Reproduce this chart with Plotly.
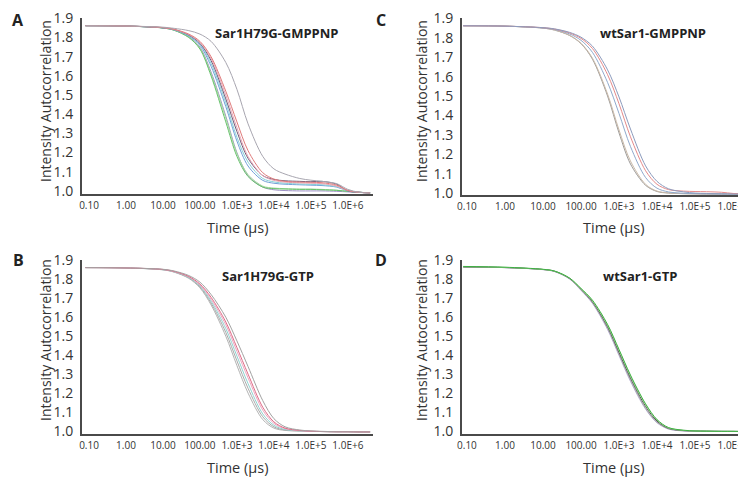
import plotly.graph_objects as go

# lag time grid (µs) shared by all correlograms
time_us = [0.08, 1, 10, 20, 50, 100, 200, 500, 1000, 2000, 5000, 1e4, 2e4, 5e4, 1e5, 2e5, 5e5, 1e6, 2e6, 4e6]

# A: Sar1H79G-GMPPNP
a_green = [1.862, 1.860, 1.850, 1.838, 1.800, 1.740, 1.600, 1.360, 1.180, 1.075, 1.020, 1.012, 1.010, 1.008, 1.008, 1.006, 1.003, 0.998, 0.993, 0.990]
a_lime = [1.862, 1.860, 1.850, 1.839, 1.802, 1.745, 1.610, 1.380, 1.195, 1.085, 1.025, 1.015, 1.012, 1.010, 1.010, 1.008, 1.004, 0.998, 0.993, 0.990]
a_purple = [1.862, 1.860, 1.850, 1.839, 1.804, 1.750, 1.620, 1.390, 1.200, 1.080, 1.020, 1.006, 1.002, 1.000, 1.000, 1.000, 0.998, 0.995, 0.992, 0.990]
a_blue = [1.862, 1.860, 1.851, 1.840, 1.808, 1.760, 1.650, 1.440, 1.260, 1.130, 1.055, 1.040, 1.035, 1.032, 1.030, 1.028, 1.020, 1.000, 0.993, 0.990]
a_cyan = [1.862, 1.860, 1.851, 1.841, 1.810, 1.765, 1.665, 1.460, 1.280, 1.150, 1.065, 1.047, 1.040, 1.036, 1.034, 1.032, 1.022, 1.000, 0.993, 0.990]
a_dark = [1.862, 1.860, 1.851, 1.842, 1.813, 1.770, 1.680, 1.480, 1.310, 1.170, 1.080, 1.060, 1.053, 1.050, 1.048, 1.050, 1.035, 1.000, 0.993, 0.990]
a_pink = [1.862, 1.860, 1.852, 1.842, 1.815, 1.775, 1.690, 1.500, 1.330, 1.180, 1.080, 1.055, 1.046, 1.042, 1.040, 1.038, 1.025, 1.002, 0.993, 0.990]
a_red = [1.862, 1.860, 1.852, 1.843, 1.818, 1.780, 1.700, 1.520, 1.360, 1.210, 1.095, 1.062, 1.050, 1.046, 1.045, 1.043, 1.030, 1.003, 0.993, 0.990]
a_grey = [1.862, 1.860, 1.854, 1.848, 1.836, 1.818, 1.780, 1.670, 1.530, 1.350, 1.180, 1.115, 1.088, 1.065, 1.056, 1.050, 1.038, 1.008, 0.993, 0.990]

# B: Sar1H79G-GTP
b_grey1 = [1.862, 1.860, 1.850, 1.838, 1.805, 1.755, 1.665, 1.500, 1.345, 1.200, 1.060, 1.015, 1.003, 1.000, 0.998, 0.997, 0.996, 0.996, 0.995, 0.995]
b_grey2 = [1.862, 1.860, 1.851, 1.839, 1.808, 1.760, 1.675, 1.520, 1.370, 1.225, 1.075, 1.022, 1.005, 1.000, 0.998, 0.997, 0.996, 0.996, 0.995, 0.995]
b_cyan = [1.862, 1.860, 1.851, 1.840, 1.810, 1.765, 1.685, 1.540, 1.395, 1.250, 1.090, 1.030, 1.008, 1.001, 0.998, 0.997, 0.996, 0.996, 0.995, 0.995]
b_pink = [1.862, 1.860, 1.852, 1.841, 1.813, 1.770, 1.695, 1.560, 1.420, 1.280, 1.110, 1.040, 1.012, 1.002, 0.998, 0.997, 0.996, 0.996, 0.995, 0.995]
b_red = [1.862, 1.860, 1.852, 1.842, 1.815, 1.775, 1.705, 1.575, 1.440, 1.300, 1.125, 1.048, 1.015, 1.003, 0.999, 0.997, 0.996, 0.996, 0.995, 0.995]
b_grey3 = [1.862, 1.860, 1.853, 1.844, 1.820, 1.785, 1.720, 1.600, 1.475, 1.340, 1.160, 1.065, 1.022, 1.005, 1.000, 0.998, 0.996, 0.996, 0.995, 0.995]

# C: wtSar1-GMPPNP
c_grey = [1.862, 1.860, 1.850, 1.840, 1.812, 1.770, 1.690, 1.500, 1.310, 1.150, 1.040, 1.008, 1.000, 0.997, 0.996, 0.995, 0.995, 0.995, 0.994, 0.994]
c_tan = [1.862, 1.860, 1.850, 1.840, 1.813, 1.772, 1.695, 1.510, 1.325, 1.165, 1.045, 1.010, 1.001, 0.997, 0.996, 0.995, 0.995, 0.995, 0.994, 0.994]
c_blue = [1.862, 1.860, 1.851, 1.843, 1.820, 1.787, 1.725, 1.570, 1.410, 1.240, 1.080, 1.025, 1.006, 0.999, 0.997, 0.996, 0.995, 0.995, 0.994, 0.994]
c_red = [1.862, 1.860, 1.852, 1.845, 1.825, 1.797, 1.745, 1.610, 1.460, 1.290, 1.115, 1.045, 1.018, 1.010, 1.008, 1.007, 1.004, 0.998, 0.995, 0.994]
c_slate = [1.862, 1.860, 1.852, 1.846, 1.828, 1.803, 1.757, 1.635, 1.495, 1.330, 1.140, 1.060, 1.022, 1.006, 1.000, 0.998, 0.996, 0.995, 0.994, 0.994]

# D: wtSar1-GTP
d_lav = [1.865, 1.862, 1.851, 1.841, 1.802, 1.742, 1.673, 1.535, 1.398, 1.262, 1.115, 1.043, 1.010, 1.000, 0.999, 0.998, 0.998, 0.997, 0.997, 0.997]
d_grey = [1.865, 1.862, 1.852, 1.842, 1.803, 1.745, 1.677, 1.542, 1.405, 1.270, 1.120, 1.046, 1.012, 1.001, 1.000, 0.999, 0.998, 0.998, 0.997, 0.997]
d_dark = [1.865, 1.862, 1.852, 1.843, 1.805, 1.748, 1.682, 1.550, 1.415, 1.280, 1.130, 1.052, 1.014, 1.002, 1.000, 0.999, 0.998, 0.998, 0.997, 0.997]
d_lime = [1.866, 1.863, 1.852, 1.843, 1.806, 1.750, 1.686, 1.557, 1.425, 1.290, 1.138, 1.057, 1.016, 1.003, 1.000, 0.999, 0.998, 0.998, 0.997, 0.997]
d_green = [1.868, 1.864, 1.853, 1.844, 1.807, 1.752, 1.690, 1.562, 1.430, 1.295, 1.143, 1.060, 1.018, 1.004, 1.000, 0.999, 0.998, 0.998, 0.997, 0.997]

x_ticks = [0.1, 1, 10, 100, 1e3, 1e4, 1e5, 1e6]
x_labels = ["0.10", "1.00", "10.00", "100.00", "1.0E+3", "1.0E+4", "1.0E+5", "1.0E+6"]
y_ticks = [1.0, 1.1, 1.2, 1.3, 1.4, 1.5, 1.6, 1.7, 1.8, 1.9]
y_labels = ["1.0", "1.1", "1.2", "1.3", "1.4", "1.5", "1.6", "1.7", "1.8", "1.9"]

panels = [
    # (axis suffix, curves)
    ("", [(a_purple, "#9d8fc4"), (a_lime, "#a5d99e"), (a_green, "#66c16b"), (a_blue, "#6f9fd8"),
          (a_cyan, "#86cfd8"), (a_dark, "#6b5b78"), (a_pink, "#eaa4b4"), (a_red, "#e07b7b"), (a_grey, "#a8a6b0")]),
    ("2", [(c_grey, "#9c9a98"), (c_tan, "#c9b9a8"), (c_blue, "#8fa9cc"), (c_red, "#e58a8a"), (c_slate, "#8c9bbd")]),
    ("3", [(b_grey1, "#b4b4b4"), (b_grey2, "#a9a9a9"), (b_cyan, "#8fd3d0"), (b_pink, "#eba7c0"),
           (b_red, "#e06a86"), (b_grey3, "#a2a2a2")]),
    ("4", [(d_lav, "#b7aed6"), (d_grey, "#a5a5a5"), (d_dark, "#4d4d4d"), (d_lime, "#9be08f"), (d_green, "#3fae44")]),
]

fig = go.Figure()
for suf, curves in panels:
    for vals, col in curves:
        fig.add_trace(go.Scatter(x=time_us, y=vals, mode="lines", xaxis="x" + suf, yaxis="y" + suf,
                                 line=dict(color=col, width=1, shape="spline", smoothing=0.9),
                                 showlegend=False, hoverinfo="skip"))

# the page body has an 8px margin, so the figure is drawn 8px in from the window corner
OFF = 8
W, H = 746 - OFF, 477 - OFF

def px_x(x):
    return (x - OFF) / W

def px_y(y):
    return 1 - (y - OFF) / H

def xax(left, right, lo, hi, anchor):
    return dict(type="log", domain=[px_x(left), px_x(right)], range=[lo, hi], anchor=anchor, automargin=False,
                tickvals=x_ticks, ticktext=x_labels, ticks="", showgrid=False, zeroline=False,
                showline=True, linecolor="#4a4a4a", linewidth=2, ticklabelstandoff=1,
                ticklabeloverflow="allow", tickfont=dict(size=10, color="#333"))

def yax(top, bottom, lo, anchor):
    return dict(domain=[px_y(bottom), px_y(top)], range=[lo, 1.902], anchor=anchor, automargin=False,
                tickvals=y_ticks, ticktext=y_labels, ticks="", showgrid=False, zeroline=False,
                showline=True, linecolor="#4a4a4a", linewidth=2, ticklabelstandoff=4,
                ticklabeloverflow="allow", tickfont=dict(size=14, color="#333"))

fig.update_layout(
    width=W, height=H, margin=dict(l=0, r=0, t=0, b=0, pad=0),
    plot_bgcolor="white", paper_bgcolor="white",
    font=dict(family="Open Sans", color="#333"),
    xaxis=xax(82, 373, -1.19, 6.68, "y"), yaxis=yax(18, 194, 0.984, "x"),
    xaxis2=xax(462, 746, -1.13, 6.34, "y2"), yaxis2=yax(18, 195, 0.99, "x2"),
    xaxis3=xax(82, 373, -1.19, 6.68, "y3"), yaxis3=yax(260, 434, 0.984, "x3"),
    xaxis4=xax(462, 746, -1.13, 6.34, "y4"), yaxis4=yax(260, 434, 0.984, "x4"),
)

def note(x, y, text, size, angle=0, color="#333"):
    fig.add_annotation(x=px_x(x), y=px_y(y), xref="paper", yref="paper", text=text, showarrow=False,
                       textangle=angle, xanchor="center", yanchor="middle", borderpad=0,
                       font=dict(size=size, color=color, family="Open Sans"))

# panel letters, titles and axis titles
for letter, lx, ly in [("A", 18, 20), ("C", 381, 20), ("B", 18, 260), ("D", 381, 260)]:
    note(lx, ly, "<b>" + letter + "</b>", 16, color="#222")
for name, tx, ty in [("Sar1H79G-GMPPNP", 277, 33), ("wtSar1-GMPPNP", 653, 33),
                     ("Sar1H79G-GTP", 268, 276), ("wtSar1-GTP", 640, 276)]:
    note(tx, ty, "<b>" + name + "</b>", 13, color="#222")
for ax_x, ax_y in [(45, 101), (421, 101), (45, 340), (421, 340)]:
    note(ax_x, ax_y, "Intensity Autocorrelation", 14, angle=-90)
for tx, ty in [(237, 227), (613, 227), (237, 467), (613, 467)]:
    note(tx, ty, "Time (µs)", 14.5)

fig.write_html("out.html")
